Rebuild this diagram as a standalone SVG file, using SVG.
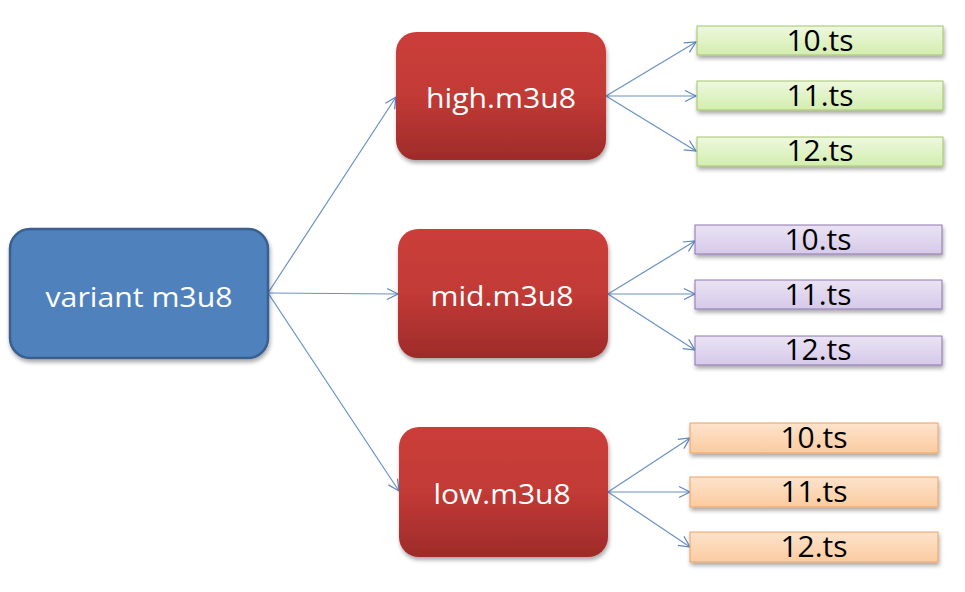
<svg xmlns="http://www.w3.org/2000/svg" width="965" height="592" viewBox="0 0 965 592">
<defs>
<linearGradient id="gRed" x1="0" y1="0" x2="0" y2="1">
<stop offset="0" stop-color="#CB3E3A"/>
<stop offset="0.5" stop-color="#C23A36"/>
<stop offset="1" stop-color="#9E2B2A"/>
</linearGradient>
<linearGradient id="gGreen" x1="0" y1="0" x2="0" y2="1">
<stop offset="0" stop-color="#EEF8DF"/>
<stop offset="1" stop-color="#D3EEAE"/>
</linearGradient>
<linearGradient id="gPurple" x1="0" y1="0" x2="0" y2="1">
<stop offset="0" stop-color="#EAE3F3"/>
<stop offset="1" stop-color="#D6C9EA"/>
</linearGradient>
<linearGradient id="gOrange" x1="0" y1="0" x2="0" y2="1">
<stop offset="0" stop-color="#FDE3CC"/>
<stop offset="1" stop-color="#FBCB9F"/>
</linearGradient>
<filter id="sh" x="-10%" y="-10%" width="130%" height="140%">
<feGaussianBlur in="SourceAlpha" stdDeviation="2"/>
<feOffset dx="1" dy="3" result="b"/>
<feComponentTransfer><feFuncA type="linear" slope="0.35"/></feComponentTransfer>
<feMerge><feMergeNode/><feMergeNode in="SourceGraphic"/></feMerge>
</filter>
<marker id="arr" markerUnits="userSpaceOnUse" markerWidth="14" markerHeight="14" viewBox="0 0 14 14" refX="12" refY="7" orient="auto">
<path d="M1,1.5 L12,7 L1,12.5" fill="none" stroke="#5B86C0" stroke-width="1.2"/>
</marker>
</defs>
<style>
.conn line { stroke: #6A90C6; stroke-width: 1.2; fill: none; marker-end: url(#arr); }
.big { font-family: "Open Sans", "Noto Sans", sans-serif; font-size: 28px; fill: #FFFFFF; text-anchor: middle; }
.ts { font-family: "Open Sans", "Noto Sans", sans-serif; font-size: 30px; fill: #000000; text-anchor: middle; }
.red { fill: url(#gRed); filter: url(#sh); }
.green { fill: url(#gGreen); stroke: #A3C46A; stroke-width: 1; filter: url(#sh); }
.purple { fill: url(#gPurple); stroke: #8E74B0; stroke-width: 1; filter: url(#sh); }
.orange { fill: url(#gOrange); stroke: #F0A060; stroke-width: 1; filter: url(#sh); }
</style>
<rect width="965" height="592" fill="#FFFFFF"/>

<g id="connectors" class="conn">
<line x1="268" y1="293" x2="396" y2="97"/>
<line x1="268" y1="293" x2="398" y2="294"/>
<line x1="268" y1="293" x2="399" y2="491"/>
<line x1="606" y1="96" x2="696" y2="42"/>
<line x1="606" y1="96" x2="696" y2="96"/>
<line x1="606" y1="96" x2="696" y2="151"/>
<line x1="608" y1="294" x2="695" y2="241"/>
<line x1="608" y1="294" x2="695" y2="294"/>
<line x1="608" y1="294" x2="695" y2="350"/>
<line x1="608" y1="492" x2="690" y2="438"/>
<line x1="608" y1="492" x2="690" y2="492"/>
<line x1="608" y1="492" x2="690" y2="547"/>
</g>

<g id="variant">
<rect x="10" y="229" width="258" height="129" rx="20" fill="#4F81BD" stroke="#3A5F8E" stroke-width="2.5" filter="url(#sh)"/>
<text class="big" x="139" y="307" textLength="187" lengthAdjust="spacingAndGlyphs">variant m3u8</text>
</g>

<g id="high">
<rect class="red" x="396" y="32" width="210" height="128" rx="20"/>
<text class="big" x="501" y="108" textLength="150" lengthAdjust="spacingAndGlyphs">high.m3u8</text>
</g>
<g id="mid">
<rect class="red" x="398" y="229" width="210" height="129" rx="20"/>
<text class="big" x="502" y="306" textLength="143" lengthAdjust="spacingAndGlyphs">mid.m3u8</text>
</g>
<g id="low">
<rect class="red" x="399" y="427" width="209" height="130" rx="20"/>
<text class="big" x="502" y="504" textLength="137" lengthAdjust="spacingAndGlyphs">low.m3u8</text>
</g>

<g id="high-10">
<rect class="green" x="697" y="26" width="246" height="29"/>
<text class="ts" x="820" y="51">10.ts</text>
</g>
<g id="high-11">
<rect class="green" x="697" y="81" width="246" height="29"/>
<text class="ts" x="820" y="106">11.ts</text>
</g>
<g id="high-12">
<rect class="green" x="697" y="137" width="246" height="29"/>
<text class="ts" x="820" y="161">12.ts</text>
</g>

<g id="mid-10">
<rect class="purple" x="695" y="225" width="247" height="29"/>
<text class="ts" x="818" y="250">10.ts</text>
</g>
<g id="mid-11">
<rect class="purple" x="695" y="280" width="247" height="29"/>
<text class="ts" x="818" y="305">11.ts</text>
</g>
<g id="mid-12">
<rect class="purple" x="695" y="336" width="247" height="29"/>
<text class="ts" x="818" y="360">12.ts</text>
</g>

<g id="low-10">
<rect class="orange" x="690" y="423" width="248" height="30"/>
<text class="ts" x="814" y="448">10.ts</text>
</g>
<g id="low-11">
<rect class="orange" x="690" y="477" width="248" height="30"/>
<text class="ts" x="814" y="502">11.ts</text>
</g>
<g id="low-12">
<rect class="orange" x="690" y="532" width="248" height="30"/>
<text class="ts" x="814" y="557">12.ts</text>
</g>
</svg>
